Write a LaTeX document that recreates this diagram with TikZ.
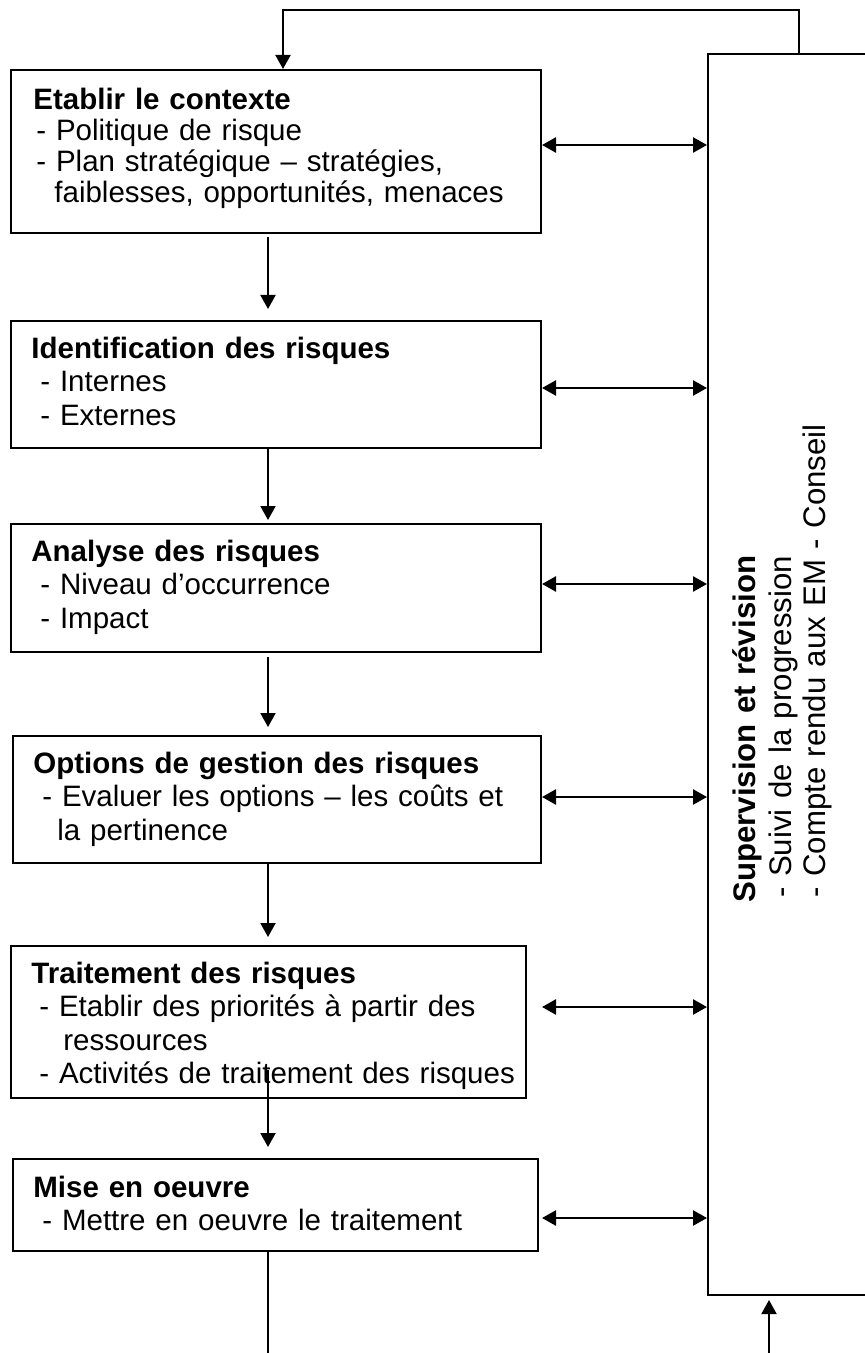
\documentclass[tikz,border=0pt]{standalone}
\usepackage{fontspec}
\setmainfont{Liberation Sans}
\usetikzlibrary{arrows.meta}
\begin{document}
\begin{tikzpicture}[x=0.5pt,y=-0.5pt,
  box/.style={draw, line width=1pt, anchor=north west, inner sep=0pt},
  txt/.style={anchor=base west, inner sep=0pt, align=left, text width=262pt,
    font=\fontsize{14.75pt}{16.75pt}\selectfont},
  arr/.style={line width=1pt, -{Triangle[length=7pt,width=7.5pt]}},
  darr/.style={line width=1.3pt, {Triangle[length=7pt,width=7.5pt]}-{Triangle[length=7pt,width=7.5pt]}},
  plainline/.style={line width=1pt}]
\useasboundingbox (0,0) rectangle (865,1353);

% boxes
\node[box, minimum width=265pt, minimum height=81.5pt] (b1) at (10,69) {};
\node[box, minimum width=265pt, minimum height=63.5pt] (b2) at (10,320) {};
\node[box, minimum width=265pt, minimum height=64pt] (b3) at (10,523) {};
\node[box, minimum width=264pt, minimum height=63.5pt] (b4) at (12,735) {};
\node[box, minimum width=257.5pt, minimum height=76pt] (b5) at (10,945) {};
\node[box, minimum width=262.5pt, minimum height=46pt] (b6) at (12,1158) {};
\node[box, minimum width=86.5pt, minimum height=620.5pt] (R) at (707,53) {};

% texts
\node[txt, font=\fontsize{14.75pt}{15.5pt}\selectfont] (t1) at ([shift={(23,41)}]b1.north west)
  {\textbf{Etablir le contexte}\\\hspace*{1.5pt}- Politique de risque\\\hspace*{1.5pt}- Plan stratégique – stratégies,\\\hspace*{10.5pt}faiblesses, opportunités, menaces};
\node[txt] (t2) at ([shift={(21,38)}]b2.north west)
  {\textbf{Identification des risques}\\\hspace*{4.5pt}- Internes\\\hspace*{4.5pt}- Externes};
\node[txt] (t3) at ([shift={(21,38)}]b3.north west)
  {\textbf{Analyse des risques}\\\hspace*{4.5pt}- Niveau d’occurrence\\\hspace*{4.5pt}- Impact};
\node[txt] (t4) at ([shift={(21,38)}]b4.north west)
  {\textbf{Options de gestion des risques}\\\hspace*{4.5pt}- Evaluer les options – les coûts et\\\hspace*{12pt}la pertinence};
\node[txt] (t5) at ([shift={(21,38)}]b5.north west)
  {\textbf{Traitement des risques}\\\hspace*{4pt}- Etablir des priorités à partir des\\\hspace*{16pt}ressources\\\hspace*{4pt}- Activités de traitement des risques};
\node[txt] (t6) at ([shift={(21,39)}]b6.north west)
  {\textbf{Mise en oeuvre}\\\hspace*{4.5pt}- Mettre en oeuvre le traitement};
\node[txt, rotate=90, text width=260pt, font=\fontsize{15.6pt}{17pt}\selectfont] (rt) at (755,903)
  {\textbf{Supervision et révision}\\[1pt]\hspace*{2.5pt}- Suivi de la progression\\\hspace*{2.5pt}- Compte rendu aux EM - Conseil};

% helper coordinates
\coordinate (ax) at (268,0);
\coordinate (lx) at (283,0);
\coordinate (rx) at (799,0);
\coordinate (ux) at (769,0);
\coordinate (topy) at (0,10);
\coordinate (boty) at (0,1353);
\coordinate (dl) at (542,0);
\coordinate (y1) at (0,145);
\coordinate (y2) at (0,388);
\coordinate (y3) at (0,584);
\coordinate (y4) at (0,797);
\coordinate (y5) at (0,1007);
\coordinate (y6) at (0,1218);

% feedback loop
\draw[arr] (R.north -| rx) -- (rx |- topy) -- (lx |- topy) -- (b1.north -| lx);

% vertical flow
\draw[arr] ([yshift=-1.5pt]b1.south -| ax) -- ([yshift=5.5pt]b2.north -| ax);
\draw[arr] (b2.south -| ax) -- ([yshift=1.5pt]b3.north -| ax);
\draw[arr] ([yshift=-2pt]b3.south -| ax) -- ([yshift=4pt]b4.north -| ax);
\draw[arr] (b4.south -| ax) -- ([yshift=4pt]b5.north -| ax);
\draw[arr] ([yshift=14.5pt]b5.south -| ax) -- ([yshift=5.5pt]b6.north -| ax);
\draw[plainline] (b6.south -| ax) -- (ax |- boty);
\draw[arr] (ux |- boty) -- ([yshift=-2pt]R.south -| ux);

% double arrows
\draw[darr] (dl |- y1) -- (R.west |- y1);
\draw[darr] (dl |- y2) -- (R.west |- y2);
\draw[darr] (dl |- y3) -- (R.west |- y3);
\draw[darr] (dl |- y4) -- (R.west |- y4);
\draw[darr] (dl |- y5) -- (R.west |- y5);
\draw[darr] (dl |- y6) -- (R.west |- y6);
\end{tikzpicture}
\end{document}
